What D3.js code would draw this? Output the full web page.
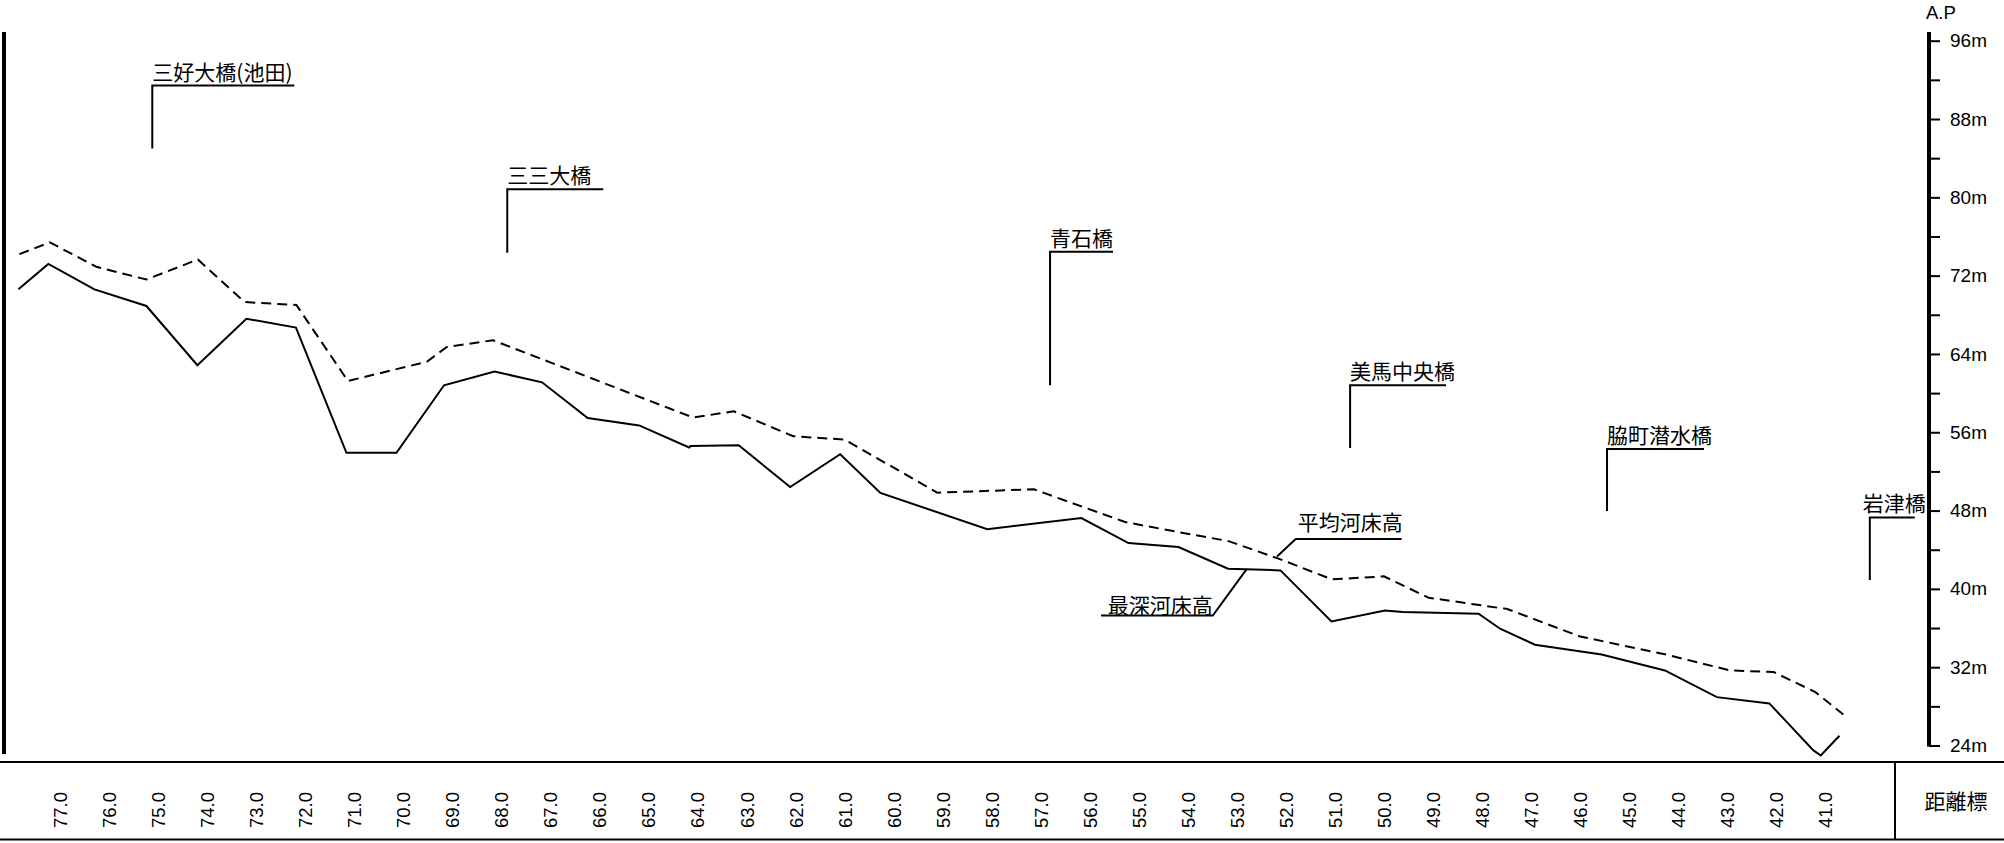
<!DOCTYPE html>
<html><head><meta charset="utf-8">
<script src="https://cdn.jsdelivr.net/npm/d3@7"></script>
<style>body{margin:0;background:#fff}svg{display:block}</style>
</head><body>
<svg id="c" width="2004" height="843"></svg>
<script>
// ---- data ----
const distanceTicks = [77,76,75,74,73,72,71,70,69,68,67,66,65,64,63,62,61,60,59,58,57,56,55,54,53,52,51,50,49,48,47,46,45,44,43,42,41];
const elevTicks = [24,28,32,36,40,44,48,52,56,60,64,68,72,76,80,84,88,92,96];

// 最深河床高 (solid)
const deepestKm   = [77.86,77.25,76.31,75.25,74.21,73.21,72.20,71.17,70.15,69.18,68.15,67.18,66.25,65.20,64.18,64.15,63.17,62.12,61.10,60.28,58.10,56.18,55.22,54.20,53.19,52.12,51.08,49.99,49.62,48.08,47.64,46.93,45.57,44.28,43.22,42.15,41.25,41.10,40.72];
const deepestElev = [70.6,73.2,70.6,68.9,62.85,67.6,66.7,53.9,53.9,60.8,62.2,61.1,57.46,56.7,54.44,54.6,54.67,50.4,53.75,49.8,46.1,47.24,44.68,44.27,42.06,41.89,36.68,37.8,37.63,37.46,35.93,34.3,33.3,31.67,28.94,28.3,23.5,22.98,25.0];

// 平均河床高 (dashed)
const meanKm   = [77.84,77.22,76.27,75.25,74.20,73.25,72.19,71.14,69.53,69.13,68.18,64.10,63.27,62.06,61.01,59.12,57.15,55.29,54.20,53.18,52.16,51.07,50.01,49.10,47.64,47.51,46.01,44.24,42.95,42.06,41.21,40.64];
const meanElev = [74.2,75.4,72.9,71.6,73.65,69.3,69.0,61.24,63.2,64.7,65.4,57.5,58.14,55.6,55.25,49.83,50.17,46.83,45.8,44.88,43.09,40.97,41.28,39.1,38.04,37.97,35.14,33.27,31.67,31.5,29.45,27.17];

// bridges
const bridgeNames = ["三好大橋(池田)","三三大橋","青石橋","美馬中央橋","脇町潜水橋","岩津橋"];
const bridgeKm    = [75.13,67.89,56.82,50.70,45.46,40.10];
const bridgeLow   = [85.0,74.35,60.8,54.4,47.95,40.9];
const bridgeHigh  = [91.42,80.82,74.43,60.8,54.3,47.3];
const bridgeBarLen = [142,96,63,96,97,45];
const bridgeTextDx = [0,0,0,0,0,-7];

// series labels
const seriesNames = ["平均河床高","最深河床高"];

// ---- drawing ----
const svg = d3.select("#c");
const W = 2004, H = 843;
const x = d3.scaleLinear().domain([77,41]).range([60.6,1825.7]);
const y = d3.scaleLinear().domain([24,96]).range([745.5,40.7]);
const cjk = "'Noto Sans CJK JP','Noto Sans',sans-serif";
const latin = "'Liberation Sans',Arial,sans-serif";

// left frame line
svg.append("line").attr("x1",4).attr("x2",4).attr("y1",32).attr("y2",754)
  .attr("stroke","#000").attr("stroke-width",4);

// bottom band
svg.append("line").attr("x1",0).attr("x2",W).attr("y1",762).attr("y2",762).attr("stroke","#000").attr("stroke-width",2);
svg.append("line").attr("x1",0).attr("x2",W).attr("y1",839.5).attr("y2",839.5).attr("stroke","#000").attr("stroke-width",2);
svg.append("line").attr("x1",1895).attr("x2",1895).attr("y1",762).attr("y2",839.5).attr("stroke","#000").attr("stroke-width",2);
svg.append("text").attr("x",1956).attr("y",800).attr("text-anchor","middle").attr("dominant-baseline","central")
  .attr("font-family",cjk).attr("font-size",21).text("距離標");

// distance labels
svg.append("g").selectAll("text").data(distanceTicks).join("text")
  .attr("transform",d=>`translate(${x(d)},828) rotate(-90)`)
  .attr("dominant-baseline","central")
  .attr("font-family",latin).attr("font-size",18.5)
  .text(d=>d.toFixed(1));

// right axis
const axisX = 1929;
svg.append("line").attr("x1",axisX).attr("x2",axisX).attr("y1",32).attr("y2",y(24)+1)
  .attr("stroke","#000").attr("stroke-width",4);
const ax = svg.append("g").attr("transform",`translate(${axisX},0)`)
  .call(d3.axisRight(y).tickValues(elevTicks).tickSize(11).tickPadding(10)
    .tickFormat(d=> d%8===0 ? d+"m" : ""));
ax.select(".domain").remove();
ax.selectAll(".tick line").attr("stroke","#000").attr("stroke-width",2);
ax.selectAll(".tick text").attr("font-family",latin).attr("font-size",19).attr("fill","#000");
svg.append("text").attr("x",1926).attr("y",19).attr("font-family",latin).attr("font-size",18.5).text("A.P");

// series lines
const line = d3.line().x(d=>x(d[0])).y(d=>y(d[1]));
svg.append("path").datum(deepestKm.map((k,i)=>[k,deepestElev[i]]))
  .attr("d",line).attr("fill","none").attr("stroke","#000").attr("stroke-width",2).attr("stroke-linejoin","miter");
svg.append("path").datum(meanKm.map((k,i)=>[k,meanElev[i]]))
  .attr("d",line).attr("fill","none").attr("stroke","#000").attr("stroke-width",2).attr("stroke-dasharray","10,6");

// bridge annotations
bridgeNames.forEach((n,i)=>{
  const bx = x(bridgeKm[i]), yl = y(bridgeLow[i]), yh = y(bridgeHigh[i]);
  svg.append("path").attr("d",`M${bx},${yl}V${yh}H${bx+bridgeBarLen[i]}`)
    .attr("fill","none").attr("stroke","#000").attr("stroke-width",2);
  svg.append("text").attr("x",bx+bridgeTextDx[i]).attr("y",yh-6)
    .attr("font-family",cjk).attr("font-size",21).text(n);
});

// series labels with leaders
const meanLeader = [[52.19,43.3],[51.81,45.09],[49.65,45.09]];
const deepLeader = [[52.81,42.02],[53.50,37.27],[55.78,37.27]];
svg.append("path").attr("d",line(meanLeader)).attr("fill","none").attr("stroke","#000").attr("stroke-width",2);
svg.append("path").attr("d",line(deepLeader)).attr("fill","none").attr("stroke","#000").attr("stroke-width",2);
svg.append("text").attr("x",x(meanLeader[1][0])+2).attr("y",y(meanLeader[1][1])-9)
  .attr("font-family",cjk).attr("font-size",21).text(seriesNames[0]);
svg.append("text").attr("x",x(deepLeader[1][0])).attr("y",y(deepLeader[1][1])-3).attr("text-anchor","end")
  .attr("font-family",cjk).attr("font-size",21).text(seriesNames[1]);
</script>
</body></html>
